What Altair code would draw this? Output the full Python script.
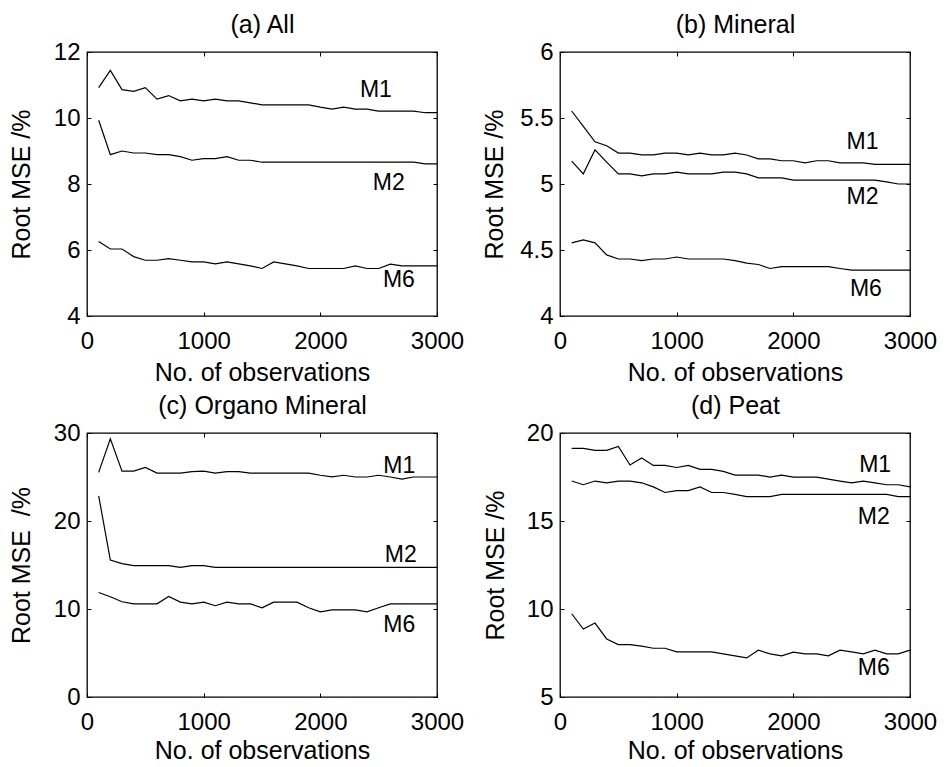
import altair as alt
import pandas as pd

FONT = "Liberation Sans"

# number of observations (x) for every series
obs = [100, 200, 300, 400, 500, 600, 700, 800, 900, 1000,
       1100, 1200, 1300, 1400, 1500, 1600, 1700, 1800, 1900, 2000,
       2100, 2200, 2300, 2400, 2500, 2600, 2700, 2800, 2900, 3000]
x_ticks = [0, 1000, 2000, 3000]

# (a) All
a_M1 = [10.92, 11.44, 10.86, 10.81, 10.92, 10.57, 10.68, 10.52, 10.57, 10.52,
        10.57, 10.52, 10.52, 10.46, 10.40, 10.40, 10.40, 10.40, 10.40, 10.33,
        10.27, 10.33, 10.27, 10.27, 10.21, 10.21, 10.21, 10.21, 10.16, 10.16]
a_M2 = [9.93, 8.89, 9.00, 8.94, 8.94, 8.89, 8.89, 8.83, 8.72, 8.77,
        8.77, 8.83, 8.72, 8.72, 8.66, 8.66, 8.66, 8.66, 8.66, 8.66,
        8.66, 8.66, 8.66, 8.66, 8.66, 8.66, 8.66, 8.66, 8.61, 8.61]
a_M6 = [6.26, 6.03, 6.03, 5.80, 5.69, 5.69, 5.74, 5.69, 5.64, 5.64,
        5.58, 5.64, 5.58, 5.52, 5.44, 5.64, 5.58, 5.52, 5.44, 5.44,
        5.44, 5.44, 5.52, 5.44, 5.44, 5.57, 5.52, 5.52, 5.52, 5.52]

# (b) Mineral
b_M1 = [5.553, 5.436, 5.32, 5.29, 5.234, 5.234, 5.22, 5.22, 5.234, 5.234,
        5.22, 5.234, 5.22, 5.22, 5.234, 5.22, 5.19, 5.19, 5.176, 5.176,
        5.16, 5.176, 5.176, 5.16, 5.16, 5.16, 5.148, 5.148, 5.148, 5.148]
b_M2 = [5.173, 5.077, 5.259, 5.166, 5.077, 5.077, 5.062, 5.077, 5.077, 5.09,
        5.077, 5.077, 5.077, 5.09, 5.09, 5.077, 5.047, 5.047, 5.047, 5.03,
        5.03, 5.03, 5.03, 5.03, 5.03, 5.03, 5.03, 5.016, 5.0, 5.0]
b_M6 = [4.554, 4.577, 4.554, 4.463, 4.432, 4.432, 4.42, 4.432, 4.432, 4.447,
        4.432, 4.432, 4.432, 4.432, 4.42, 4.40, 4.39, 4.36, 4.374, 4.374,
        4.374, 4.374, 4.374, 4.36, 4.347, 4.347, 4.347, 4.347, 4.347, 4.347]

# (c) Organo Mineral
c_M1 = [25.52, 29.35, 25.67, 25.67, 26.09, 25.44, 25.44, 25.44, 25.6, 25.67,
        25.44, 25.6, 25.6, 25.44, 25.44, 25.44, 25.44, 25.44, 25.44, 25.2,
        25.02, 25.2, 25.0, 25.0, 25.2, 25.0, 24.76, 25.0, 25.0, 25.0]
c_M2 = [22.86, 15.57, 15.15, 14.92, 14.92, 14.92, 14.92, 14.73, 14.92, 14.92,
        14.73, 14.73, 14.73, 14.73, 14.73, 14.73, 14.73, 14.73, 14.73, 14.73,
        14.73, 14.73, 14.73, 14.73, 14.73, 14.73, 14.73, 14.73, 14.73, 14.73]
c_M6 = [11.88, 11.39, 10.82, 10.59, 10.59, 10.59, 11.43, 10.78, 10.59, 10.78,
        10.37, 10.78, 10.59, 10.59, 10.14, 10.78, 10.78, 10.78, 10.14, 9.68,
        9.91, 9.91, 9.91, 9.68, 10.14, 10.59, 10.59, 10.59, 10.59, 10.59]

# (d) Peat
d_M1 = [19.13, 19.13, 19.01, 19.01, 19.24, 18.18, 18.58, 18.16, 18.16, 18.04,
        18.16, 17.93, 17.93, 17.82, 17.61, 17.61, 17.61, 17.49, 17.61, 17.49,
        17.49, 17.49, 17.38, 17.27, 17.17, 17.27, 17.17, 17.06, 17.06, 16.94]
d_M2 = [17.27, 17.06, 17.27, 17.17, 17.27, 17.27, 17.17, 16.94, 16.62, 16.73,
        16.73, 16.94, 16.62, 16.62, 16.51, 16.39, 16.39, 16.39, 16.51, 16.51,
        16.51, 16.51, 16.51, 16.51, 16.51, 16.51, 16.51, 16.51, 16.39, 16.39]
d_M6 = [9.73, 8.86, 9.2, 8.30, 7.98, 7.98, 7.89, 7.77, 7.77, 7.56,
        7.56, 7.56, 7.56, 7.45, 7.34, 7.22, 7.66, 7.45, 7.34, 7.55,
        7.45, 7.45, 7.34, 7.66, 7.56, 7.45, 7.66, 7.45, 7.45, 7.66]

models = ["M1", "M2", "M6"]
# label positions (data units) per panel
a_lab_x = [2476, 2586, 2673]; a_lab_y = [10.84, 8.02, 5.08]
b_lab_x = [2593, 2593, 2622]; b_lab_y = [5.317, 4.90, 4.207]
c_lab_x = [2676, 2690, 2676]; c_lab_y = [26.2, 16.14, 8.17]
d_lab_x = [2701, 2690, 2690]; d_lab_y = [18.2, 15.25, 6.62]

TICK = 4
FS_TICK = 24
FS_TITLE = 25
FS_LAB = 23


def panel(title, ytitle, ydom, yticks, series, lab_x, lab_y, ytitle_pad, xtitle_pad):
    rows = []
    for name, vals in zip(models, series):
        for x, v in zip(obs, vals):
            rows.append({"obs": x, "rmse": v, "model": name})
    df = pd.DataFrame(rows)
    ldf = pd.DataFrame({"model": models, "x": lab_x, "y": lab_y})
    xs = alt.Scale(domain=[0, 3000], nice=False, zero=False)
    ys = alt.Scale(domain=ydom, nice=False, zero=False)

    xaxis = alt.Axis(values=x_ticks, labelExpr="datum.value + ''", orient="bottom",
                     offset=-TICK, tickSize=TICK, domain=False, grid=False,
                     labelPadding=13, labelFlush=False, title="No. of observations",
                     titlePadding=xtitle_pad)
    yaxis = alt.Axis(values=yticks, labelExpr="datum.value + ''", orient="left",
                     offset=-TICK, tickSize=TICK, domain=False, grid=False,
                     labelPadding=7, labelFlush=False, title=ytitle,
                     titlePadding=ytitle_pad)
    lines = alt.Chart(df).mark_line(color="black", strokeWidth=1.2).encode(
        x=alt.X("obs:Q", scale=xs, axis=xaxis),
        y=alt.Y("rmse:Q", scale=ys, axis=yaxis),
        detail="model:N",
    )
    # top axis carries the panel title; right axis only inward ticks
    xaxis2 = alt.Axis(values=x_ticks, orient="top", offset=-TICK, tickSize=TICK,
                      domain=False, grid=False, labels=False, title=title,
                      titlePadding=14)
    yaxis2 = alt.Axis(values=yticks, orient="right", offset=-TICK, tickSize=TICK,
                      domain=False, grid=False, labels=False, title=None)
    frame = alt.Chart(df).mark_line(opacity=0).encode(
        x=alt.X("obs:Q", scale=xs, axis=xaxis2),
        y=alt.Y("rmse:Q", scale=ys, axis=yaxis2),
        detail="model:N",
    )
    labels = alt.Chart(ldf).mark_text(fontSize=FS_LAB, font=FONT, color="black",
                                      align="center", baseline="middle").encode(
        x=alt.X("x:Q", scale=xs, axis=None),
        y=alt.Y("y:Q", scale=ys, axis=None),
        text="model:N",
    )
    return alt.layer(lines, frame, labels).resolve_axis(
        x="independent", y="independent"
    ).properties(width=350, height=264)


pa = panel("(a) All", "Root MSE /%", [4, 12], [4, 6, 8, 10, 12],
           [a_M1, a_M2, a_M6], a_lab_x, a_lab_y, 19, 7)
pb = panel("(b) Mineral", "Root MSE /%", [4, 6], [4, 4.5, 5, 5.5, 6],
           [b_M1, b_M2, b_M6], b_lab_x, b_lab_y, 12, 7)
pc = panel("(c) Organo Mineral", "Root MSE \u00a0/%", [0, 30], [0, 10, 20, 30],
           [c_M1, c_M2, c_M6], c_lab_x, c_lab_y, 19, 4)
pd_ = panel("(d) Peat", "Root MSE /%", [5, 20], [5, 10, 15, 20],
            [d_M1, d_M2, d_M6], d_lab_x, d_lab_y, 18, 4)

chart = alt.concat(pa, pb, pc, pd_, columns=2, spacing={"row": 117, "column": 123},
                   bounds="flush").properties(
    padding={"left": 0, "top": 3, "right": 0, "bottom": 0},
).configure(
    font=FONT, background="white",
).configure_view(
    stroke="black", strokeWidth=1.3,
).configure_axis(
    labelFont=FONT, titleFont=FONT, labelFontSize=FS_TICK, titleFontSize=FS_TITLE,
    labelColor="black", titleColor="black", tickColor="black", tickWidth=1,
    titleFontWeight="normal",
)

chart.save("out.html", embed_options={"renderer": "svg", "actions": False})
